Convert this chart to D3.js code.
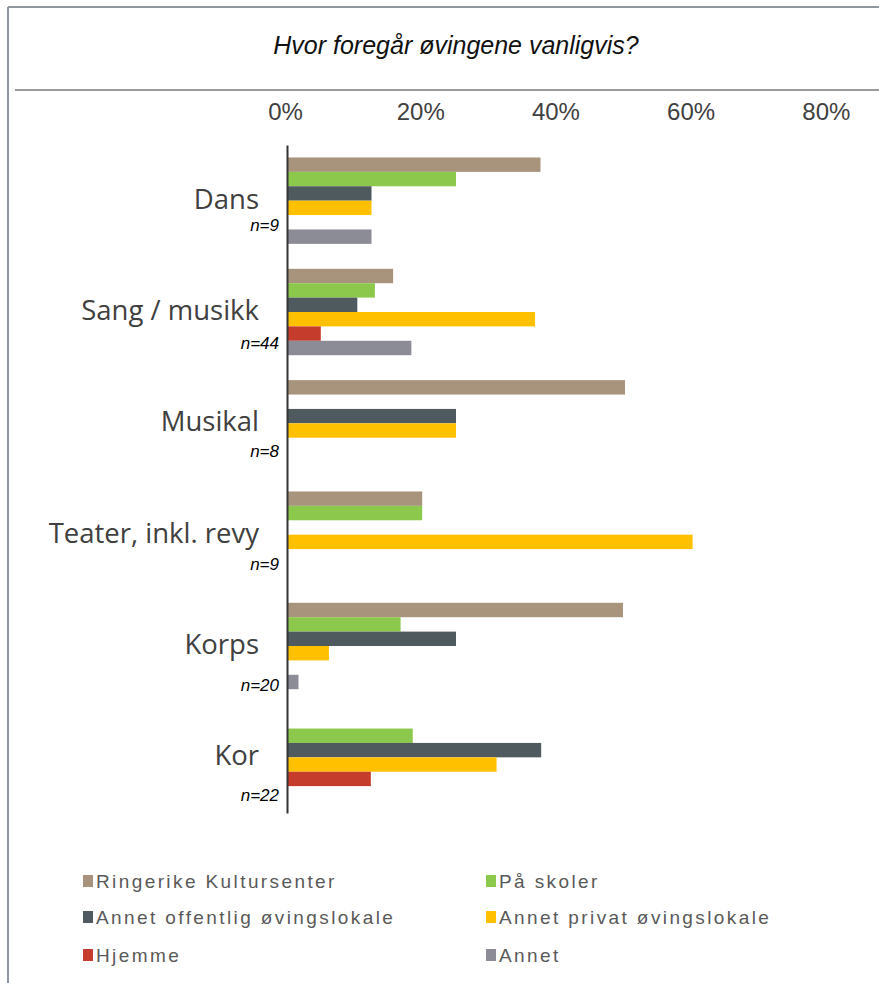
<!DOCTYPE html>
<html>
<head>
<meta charset="utf-8">
<script src="https://cdn.jsdelivr.net/npm/d3@7"></script>
<style>
  html, body { margin: 0; padding: 0; background: #fff; }
  svg { display: block; }
</style>
</head>
<body>
<svg id="chart" width="879" height="983"></svg>
<script>
// ---- data ----
const title = "Hvor foregår øvingene vanligvis?";
const categories = ["Dans", "Sang / musikk", "Musikal", "Teater, inkl. revy", "Korps", "Kor"];
const nLabels = ["n=9", "n=44", "n=8", "n=9", "n=20", "n=22"];
const seriesNames = ["Ringerike Kultursenter", "På skoler", "Annet offentlig øvingslokale", "Annet privat øvingslokale", "Hjemme", "Annet"];
const ringerike = [0.375, 0.157, 0.50, 0.20, 0.497, 0];
const paSkoler = [0.25, 0.13, 0, 0.20, 0.168, 0.186];
const annetOffentlig = [0.125, 0.104, 0.25, 0, 0.25, 0.376];
const annetPrivat = [0.125, 0.367, 0.25, 0.60, 0.062, 0.31];
const hjemme = [0, 0.05, 0, 0, 0, 0.124];
const annet = [0.125, 0.184, 0, 0, 0.017, 0];
const tickValues = [0, 0.2, 0.4, 0.6, 0.8];

// ---- styles / layout ----
const colors = ["#a8947c", "#8cc84b", "#4e5a5e", "#ffc000", "#c63c2c", "#8c8c96"];
const nLabelDy = [30, 37, 34, 35, 45, 44];

const seriesValues = [ringerike, paSkoler, annetOffentlig, annetPrivat, hjemme, annet];

const svg = d3.select("#chart");

// frame
svg.append("line").attr("x1", 8).attr("x2", 879).attr("y1", 7).attr("y2", 7)
  .attr("stroke", "#8f969e").attr("stroke-width", 2);
svg.append("line").attr("x1", 8).attr("x2", 8).attr("y1", 7).attr("y2", 983)
  .attr("stroke", "#8f969e").attr("stroke-width", 2);
svg.append("line").attr("x1", 15).attr("x2", 879).attr("y1", 90).attr("y2", 90)
  .attr("stroke", "#7a7a7a").attr("stroke-width", 1.5);

// title
svg.append("text")
  .attr("x", 456).attr("y", 54)
  .attr("text-anchor", "middle")
  .attr("font-family", "'Liberation Sans', Arial, sans-serif")
  .attr("font-style", "italic")
  .attr("font-size", 25)
  .attr("fill", "#111")
  .text(title);

// scales
const x = d3.scaleLinear().domain([0, 1]).range([287, 963]);
const y = d3.scaleBand().domain(categories).range([145, 813])
  .paddingInner(0.224).paddingOuter(0.112);
const ySub = d3.scaleBand().domain(seriesNames).range([0, y.bandwidth()]);

// top axis labels
const xAxis = d3.axisTop(x).tickValues(tickValues).tickFormat(d3.format(".0%")).tickSize(0).tickPadding(0);
const gx = svg.append("g").attr("transform", "translate(-2,120)").call(xAxis);
gx.select(".domain").remove();
gx.selectAll("text")
  .attr("font-family", "'Liberation Sans', Arial, sans-serif")
  .attr("font-size", 24)
  .attr("fill", "#404040")
  .attr("dy", 0);

// bars
const rows = [];
categories.forEach((c, i) => {
  seriesNames.forEach((s, j) => {
    rows.push({ cat: c, series: s, value: seriesValues[j][i], color: colors[j] });
  });
});
svg.append("g").selectAll("rect")
  .data(rows.filter(d => d.value > 0))
  .join("rect")
  .attr("x", x(0))
  .attr("y", d => y(d.cat) + ySub(d.series))
  .attr("width", d => x(d.value) - x(0))
  .attr("height", ySub.bandwidth())
  .attr("fill", d => d.color);

// y axis line
const yAxis = d3.axisLeft(y).tickSize(0).tickFormat("");
const gy = svg.append("g").attr("transform", `translate(${x(0)},0)`).call(yAxis);
gy.select(".domain").attr("stroke", "#333").attr("stroke-width", 2);

// category labels
svg.append("g").selectAll("text")
  .data(categories)
  .join("text")
  .attr("x", 259)
  .attr("y", d => y(d) + y.bandwidth() / 2 + 8)
  .attr("text-anchor", "end")
  .attr("font-family", "'Open Sans', 'Liberation Sans', sans-serif")
  .attr("font-size", 27.5)
  .attr("fill", "#404040")
  .text(d => d);

// n labels
svg.append("g").selectAll("text")
  .data(categories)
  .join("text")
  .attr("x", 279)
  .attr("y", (d, i) => y(d) + y.bandwidth() / 2 + nLabelDy[i])
  .attr("text-anchor", "end")
  .attr("font-family", "'Liberation Sans', Arial, sans-serif")
  .attr("font-style", "italic")
  .attr("font-size", 17)
  .attr("fill", "#000")
  .text((d, i) => nLabels[i]);

// legend
const legendCols = [83, 486];
const legendRows = [881, 917, 955];
const lg = svg.append("g").selectAll("g")
  .data(seriesNames)
  .join("g")
  .attr("transform", (d, i) => `translate(${legendCols[i % 2]},${legendRows[Math.floor(i / 2)]})`);
lg.append("rect").attr("x", 0).attr("y", -6).attr("width", 10).attr("height", 12)
  .attr("fill", (d, i) => colors[i]);
lg.append("text").attr("x", 13).attr("y", 7)
  .attr("font-family", "'Liberation Sans', Arial, sans-serif")
  .attr("font-size", 19)
  .attr("letter-spacing", 2.4)
  .attr("fill", "#595959")
  .text(d => d);
</script>
</body>
</html>
